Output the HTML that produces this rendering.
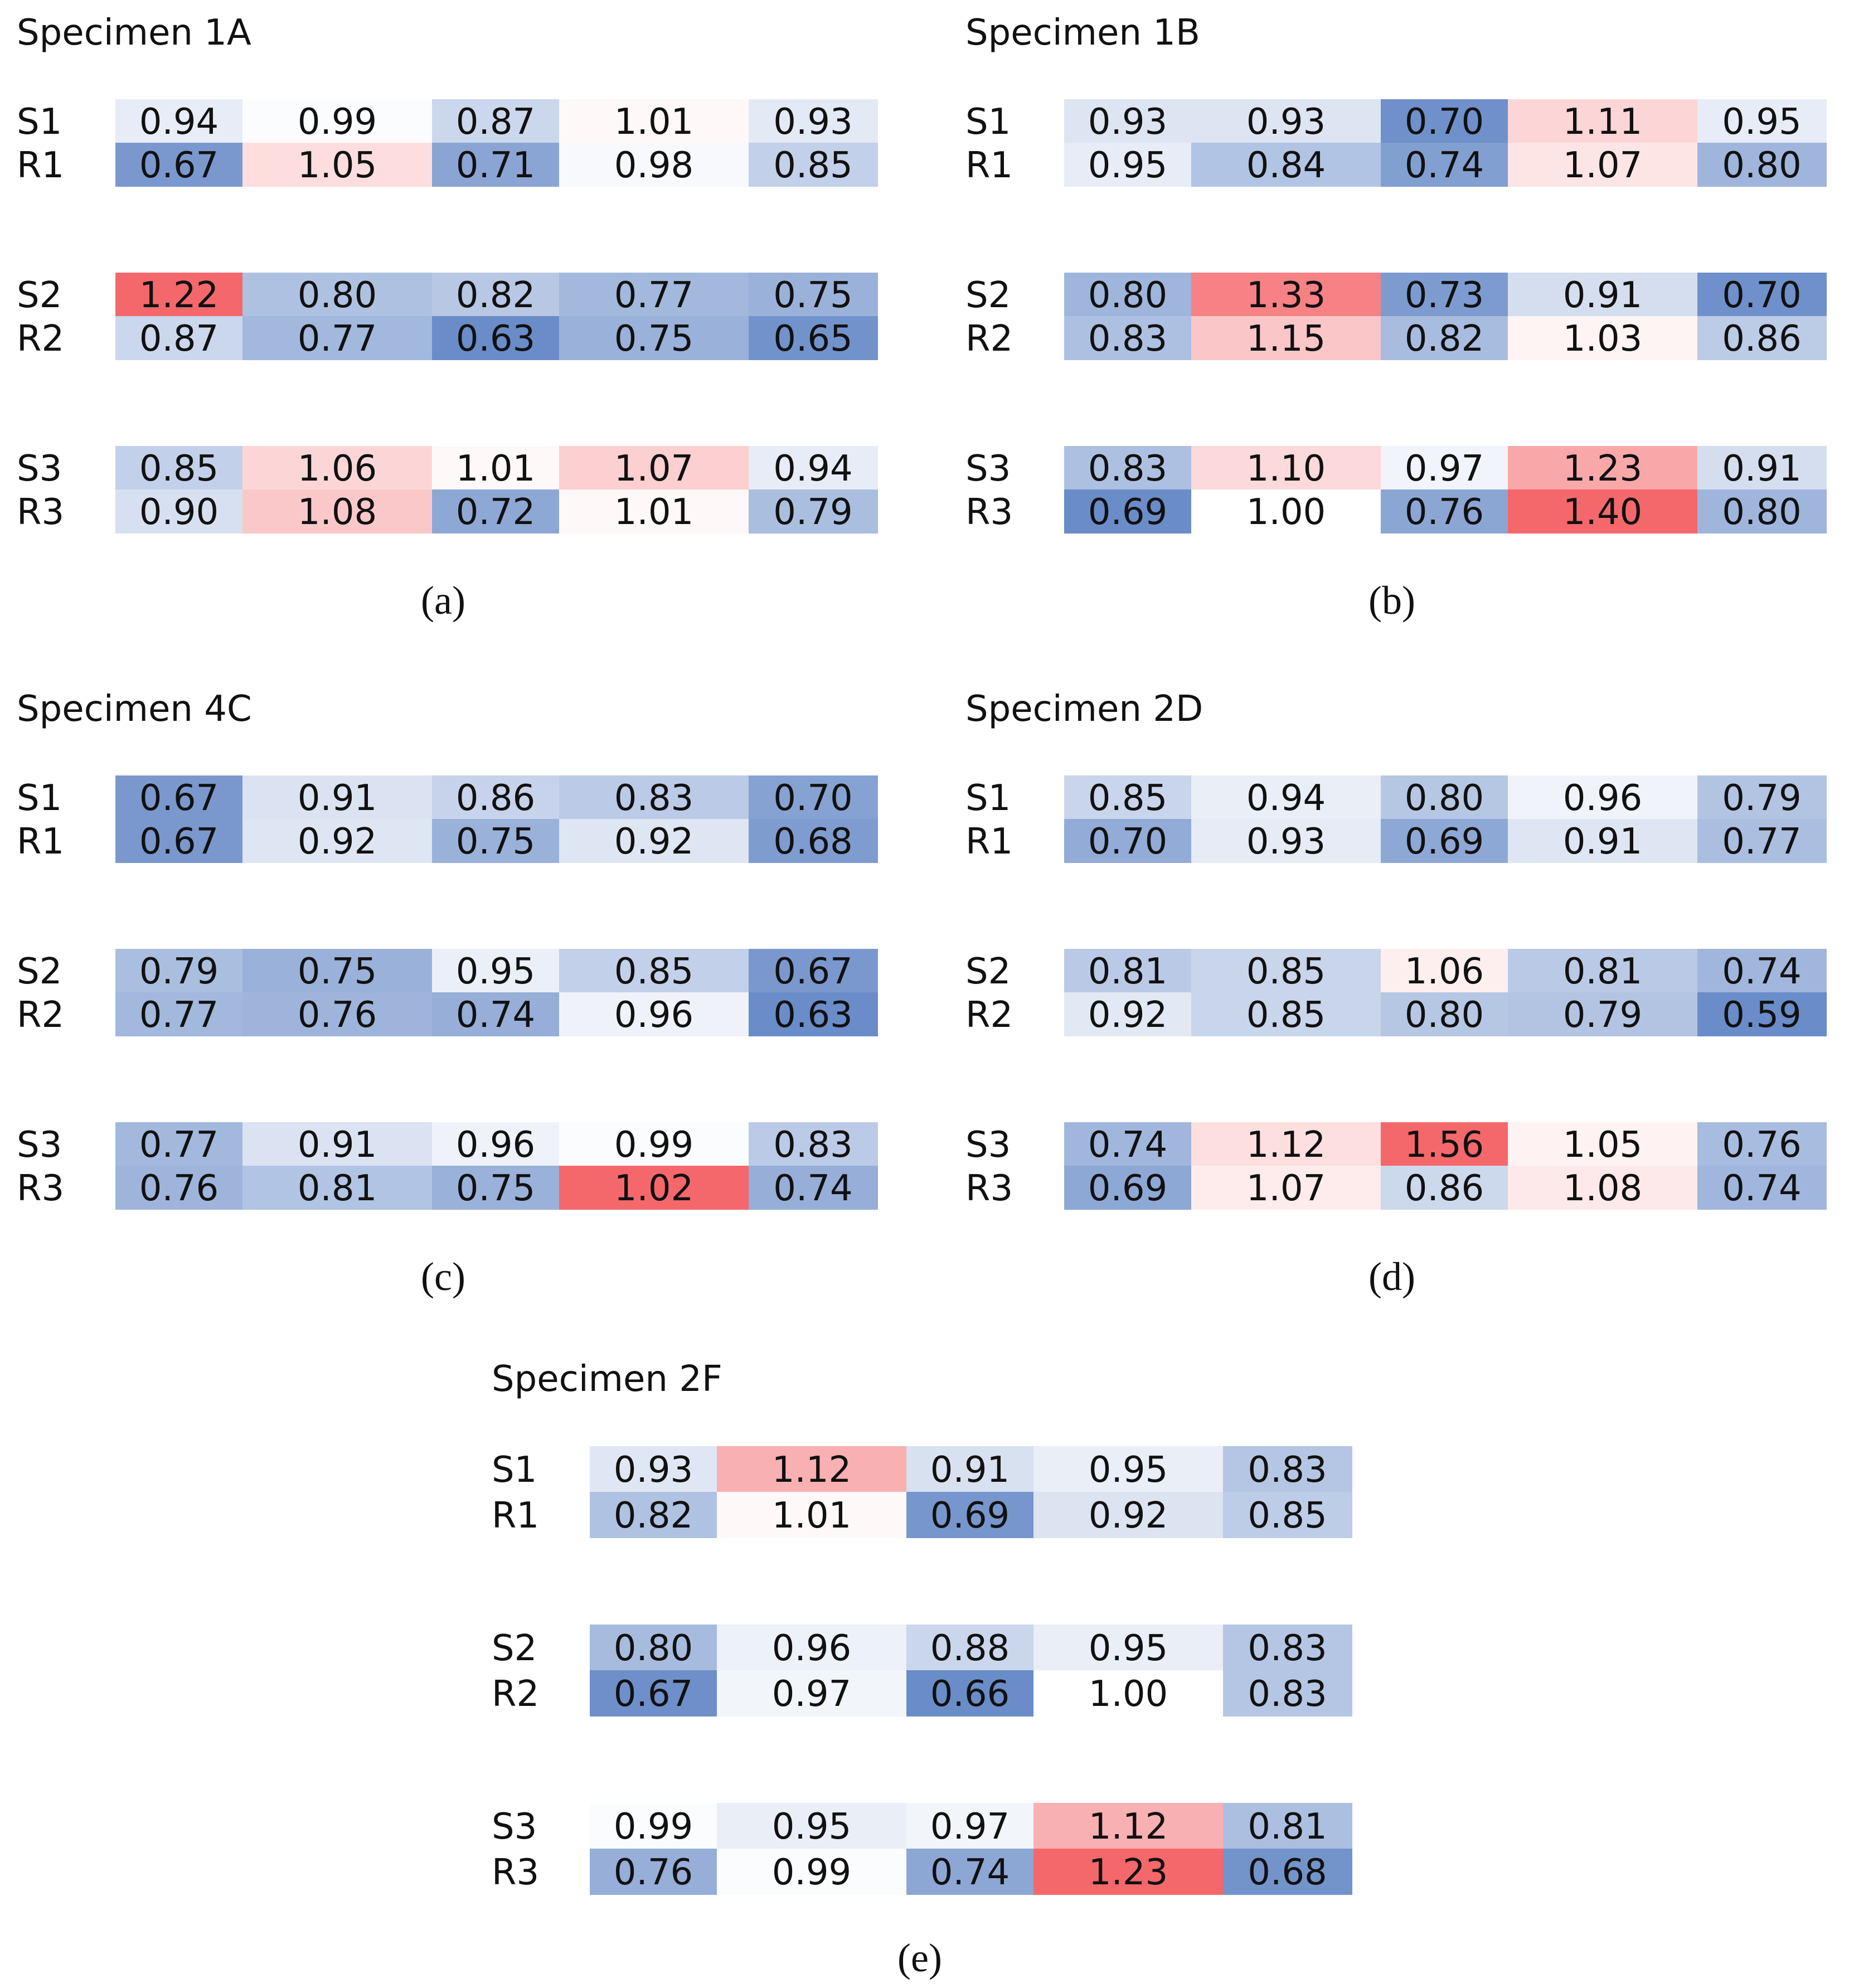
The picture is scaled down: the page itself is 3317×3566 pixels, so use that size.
<!DOCTYPE html>
<html><head><meta charset="utf-8">
<style>
body{margin:0;background:#fff;}
svg{display:block;}
.t{font-family:"DejaVu Sans","Liberation Sans",sans-serif;fill:#111;}
.cap{font-family:"Liberation Serif",serif;fill:#111;}
</style></head>
<body>
<svg id="chart" width="3317" height="3566" viewBox="0 0 3317 3566" xmlns="http://www.w3.org/2000/svg"></svg>
<script>
const rowLabels = ["S1","R1","S2","R2","S3","R3"];
const panelTitles = ["Specimen 1A","Specimen 1B","Specimen 4C","Specimen 2D","Specimen 2F"];
const panelCaptions = ["(a)","(b)","(c)","(d)","(e)"];
const valuesA = [[0.94,0.99,0.87,1.01,0.93],[0.67,1.05,0.71,0.98,0.85],[1.22,0.80,0.82,0.77,0.75],[0.87,0.77,0.63,0.75,0.65],[0.85,1.06,1.01,1.07,0.94],[0.90,1.08,0.72,1.01,0.79]];
const valuesB = [[0.93,0.93,0.70,1.11,0.95],[0.95,0.84,0.74,1.07,0.80],[0.80,1.33,0.73,0.91,0.70],[0.83,1.15,0.82,1.03,0.86],[0.83,1.10,0.97,1.23,0.91],[0.69,1.00,0.76,1.40,0.80]];
const valuesC = [[0.67,0.91,0.86,0.83,0.70],[0.67,0.92,0.75,0.92,0.68],[0.79,0.75,0.95,0.85,0.67],[0.77,0.76,0.74,0.96,0.63],[0.77,0.91,0.96,0.99,0.83],[0.76,0.81,0.75,1.02,0.74]];
const valuesD = [[0.85,0.94,0.80,0.96,0.79],[0.70,0.93,0.69,0.91,0.77],[0.81,0.85,1.06,0.81,0.74],[0.92,0.85,0.80,0.79,0.59],[0.74,1.12,1.56,1.05,0.76],[0.69,1.07,0.86,1.08,0.74]];
const valuesE = [[0.93,1.12,0.91,0.95,0.83],[0.82,1.01,0.69,0.92,0.85],[0.80,0.96,0.88,0.95,0.83],[0.67,0.97,0.66,1.00,0.83],[0.99,0.95,0.97,1.12,0.81],[0.76,0.99,0.74,1.23,0.68]];

const svg = document.getElementById('chart');
const NS = "http://www.w3.org/2000/svg";
const colW = [228,340,228,340,231];

function color(v, vmin, vmax){
  let r,g,b;
  if(v<=1){
    const t=Math.min(1,Math.max(0,(1-v)/(1-vmin)));
    r=255-t*149; g=255-t*115; b=255-t*55;
  } else {
    const t=Math.min(1,Math.max(0,(v-1)/(vmax-1)));
    r=255-t*11; g=255-t*151; b=255-t*148;
  }
  return `rgb(${Math.round(r)},${Math.round(g)},${Math.round(b)})`;
}
function txt(x,y,s,cls,size,anchor,name,weight){
  const t=document.createElementNS(NS,'text');
  t.setAttribute('x',x);t.setAttribute('y',y);
  t.setAttribute('class',cls);t.setAttribute('font-size',size);
  t.setAttribute('text-anchor',anchor);
  if(weight) t.setAttribute('font-weight',weight);
  
  
  t.textContent=s; svg.appendChild(t); return t;
}
function panel(idx, vals, p){
  const g=document.createElementNS(NS,'g');
  
  
  svg.appendChild(g);
  let vmin=Infinity,vmax=-Infinity;
  vals.forEach(r=>r.forEach(v=>{vmin=Math.min(vmin,v);vmax=Math.max(vmax,v);}));
  txt(p.lx, p.ty, panelTitles[idx], 't', 64, 'start', 'panel-title');
  for(let r=0;r<6;r++){
    const y=p.y0+Math.floor(r/2)*p.step+(r%2)*p.rh;
    txt(p.lx, y+p.rh/2+23, rowLabels[r], 't', 64, 'start', 'row-label');
    let x=p.x0;
    for(let c=0;c<5;c++){
      const v=vals[r][c];
      const rect=document.createElementNS(NS,'rect');
      rect.setAttribute('x',x);rect.setAttribute('y',y);
      rect.setAttribute('width',colW[c]+1);rect.setAttribute('height',p.rh+1);
      rect.setAttribute('fill',color(v,vmin,vmax));
      
      
      g.appendChild(rect);
      txt(x+colW[c]/2, y+p.rh/2+23, v.toFixed(2), 't', 64, 'middle', 'cell-value');
      x+=colW[c];
    }
  }
  txt(p.cx, p.cy+22, panelCaptions[idx], 'cap', 72, 'middle', 'panel-caption');
}
const base={x0:207,y0:178,rh:78,step:311,lx:30,ty:80,cx:795,cy:1079};
function shift(dx,dy){return {x0:base.x0+dx,y0:base.y0+dy,rh:base.rh,step:base.step,lx:base.lx+dx,ty:base.ty+dy,cx:base.cx+dx,cy:base.cy+dy};}
panel(0,valuesA,shift(0,0));
panel(1,valuesB,shift(1702,0));
panel(2,valuesC,shift(0,1213));
panel(3,valuesD,shift(1702,1213));
panel(4,valuesE,{x0:1058,y0:2594,rh:82,step:320,lx:882,ty:2495,cx:1650,cy:3514});
</script>
</body></html>
